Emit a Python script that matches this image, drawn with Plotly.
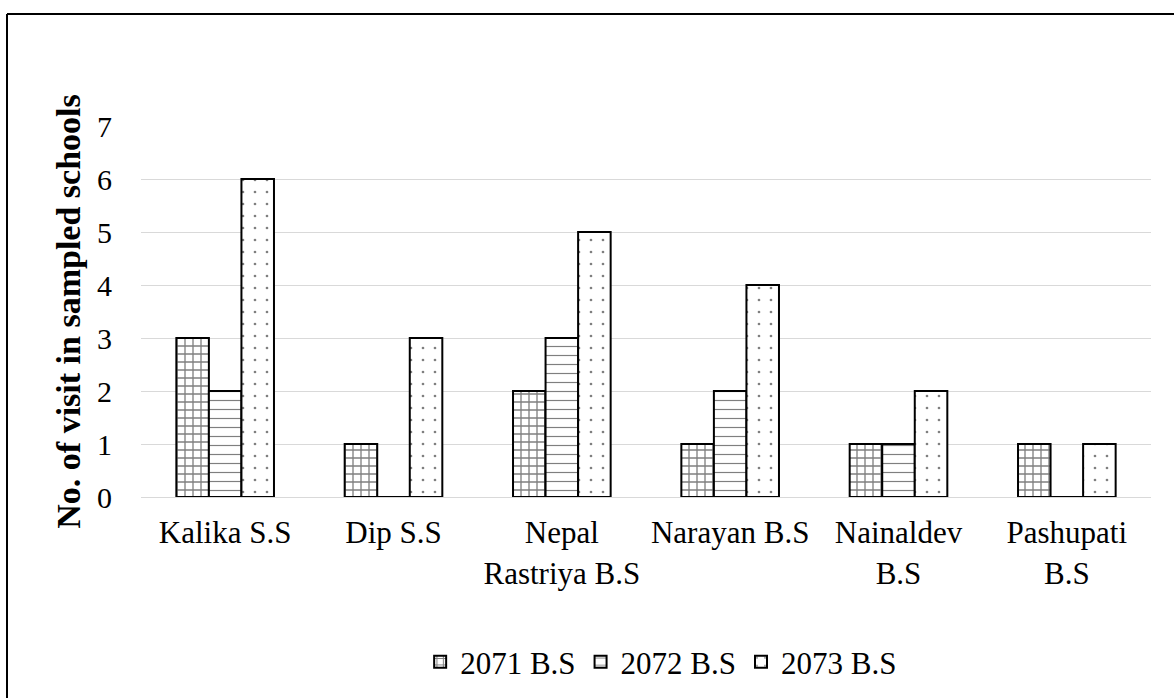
import plotly.graph_objects as go

schools = ["Kalika S.S", "Dip S.S", "Nepal<br>Rastriya B.S", "Narayan B.S",
           "Nainaldev<br>B.S", "Pashupati<br>B.S"]
visits_2071 = [3, 1, 2, 1, 1, 1]
visits_2072 = [2, 0, 3, 2, 1, 0]
visits_2073 = [6, 3, 5, 4, 2, 1]
series_names = ["2071 B.S", "2072 B.S", "2073 B.S"]
y_ticks = [0, 1, 2, 3, 4, 5, 6, 7]

# fill styles: brick-like grid, horizontal dashes, sparse dots
patterns = [
    dict(shape="+", size=8, solidity=0.3),
    dict(shape="-", size=9, solidity=0.13),
    dict(shape=".", size=12, solidity=0.04),
]

fig = go.Figure()
for name, vals, pat in zip(series_names, [visits_2071, visits_2072, visits_2073], patterns):
    fig.add_trace(go.Bar(
        x=schools, y=vals, name=name,
        marker=dict(color="white", line=dict(color="black", width=2),
                    pattern=dict(fgcolor="black", bgcolor="white", **pat)),
    ))

font_family = "Liberation Serif"
L, R, T, B = 141, 23, 126, 201
W, H = 1174, 698
pw, ph = W - L - R, H - T - B

fig.update_layout(
    width=W, height=H,
    paper_bgcolor="white", plot_bgcolor="white",
    margin=dict(l=L, r=R, t=T, b=B, autoexpand=False),
    barmode="group", bargap=0.42, bargroupgap=0,
    font=dict(family=font_family, color="black", size=31),
    showlegend=True,
    legend=dict(orientation="h", x=0.515, xanchor="center", y=-0.445, yanchor="middle",
                font=dict(size=31), itemwidth=30, traceorder="normal",
                tracegroupgap=0),
    xaxis=dict(showgrid=False, showline=True, linecolor="#d9d9d9", linewidth=1,
               tickfont=dict(size=31), ticks="", automargin=False,
               ticklabelstandoff=8),
    yaxis=dict(range=[0, 7], tickvals=y_ticks, showgrid=True, gridcolor="#d9d9d9",
               gridwidth=1, zeroline=False, showline=False, automargin=False,
               tickfont=dict(size=30), ticklabelstandoff=28,
               title=dict(text="<b>No. of visit in sampled schools</b>",
                          font=dict(size=34), standoff=6)),
    shapes=[
        dict(type="line", xref="paper", yref="paper",
             x0=(7 - L) / pw, x1=1.05, y0=(H - B - 14) / ph, y1=(H - B - 14) / ph,
             line=dict(color="black", width=2)),
        dict(type="line", xref="paper", yref="paper",
             x0=(7 - L) / pw, x1=(7 - L) / pw, y0=(H - B - 14) / ph, y1=-0.6,
             line=dict(color="black", width=2)),
    ],
)

fig.write_html("out.html")
